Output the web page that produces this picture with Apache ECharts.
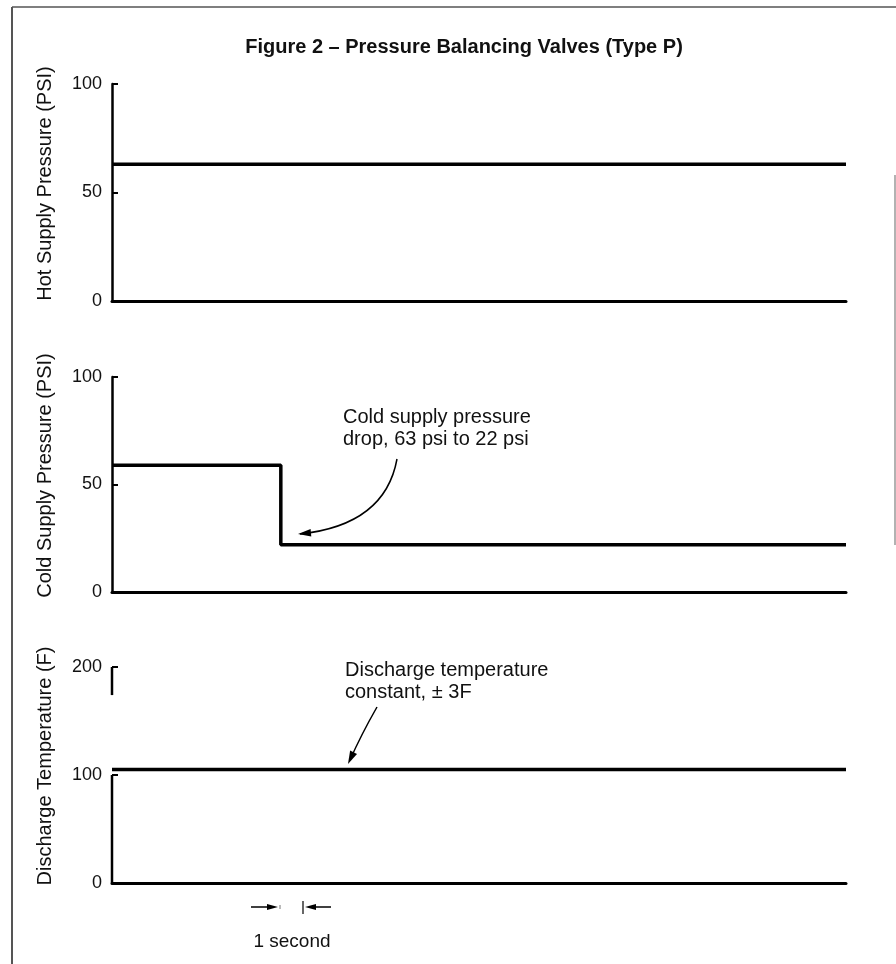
<!DOCTYPE html>
<html><head><meta charset="utf-8">
<script src="https://cdn.jsdelivr.net/npm/echarts@6.0.0/dist/echarts.min.js"></script>
<style>html,body{margin:0;padding:0;background:#fff}#c{width:896px;height:964px}</style>
</head><body><div id="c"></div>
<script>
// ---- data ----
const timeMin = 0, timeMax = 30;            // seconds (1 second ≈ 24 px)
const hotTime = [0, 30];
const hotPsi = [63, 63];
const coldTime = [0, 6.9, 6.9, 30];
const coldPsi = [59, 59, 22, 22];
const dischargeTime = [0, 30];
const dischargeF = [105, 105];
const pressureMax = 100, pressureStep = 50;
const tempMax = 200, tempStep = 100;
const tempAxisSegA = [0, 100];   // visible pieces of the broken temperature axis
const tempAxisSegB = [174, 200];
const names = ['Hot Supply Pressure (PSI)', 'Cold Supply Pressure (PSI)', 'Discharge Temperature (F)'];
const titleText = 'Figure 2 – Pressure Balancing Valves (Type P)';
const note1 = 'Cold supply pressure\ndrop, 63 psi to 22 psi';
const note2 = 'Discharge temperature\nconstant, ± 3F';
const secondLabel = '1 second';

const FONT = 'Liberation Sans, Arial, Helvetica, sans-serif';
const INK = '#111';
const chart = echarts.init(document.getElementById('c'), null, {renderer: 'canvas'});

const grids = [
  {left: 112, right: 50, top: 84, height: 217},
  {left: 112, right: 50, top: 377, height: 215},
  {left: 112, right: 50, top: 667, height: 216}
];
const xAxes = grids.map((g, i) => ({
  type: 'value', gridIndex: i, min: timeMin, max: timeMax,
  axisLine: {show: true, onZero: false, lineStyle: {color: '#000', width: 3}},
  axisTick: {show: false}, axisLabel: {show: false}, splitLine: {show: false}
}));
function yAx(i, max, step, showLine) {
  return {
    type: 'value', gridIndex: i, min: 0, max: max, interval: step,
    name: names[i], nameLocation: 'middle', nameGap: 57, nameRotate: 90,
    nameTextStyle: {fontSize: 20, color: INK, fontFamily: FONT, padding: [0, 0, 0, 18]},
    axisLine: {show: showLine, lineStyle: {color: '#000', width: 2.5}},
    axisTick: {show: true, inside: true, length: 6, lineStyle: {color: '#000', width: 2}},
    axisLabel: {fontSize: 18, color: INK, fontFamily: FONT, margin: 10},
    splitLine: {show: false}
  };
}
const yAxes = [yAx(0, pressureMax, pressureStep, true), yAx(1, pressureMax, pressureStep, true), yAx(2, tempMax, tempStep, false)];

function lineSeries(i, xs, ys, w) {
  return {
    type: 'line', xAxisIndex: i, yAxisIndex: i, data: xs.map((x, k) => [x, ys[k]]),
    symbol: 'none', silent: true, clip: false, animation: false,
    lineStyle: {color: '#000', width: w}
  };
}
const series = [
  lineSeries(0, hotTime, hotPsi, 3.5),
  lineSeries(1, coldTime, coldPsi, 3.5),
  lineSeries(2, dischargeTime, dischargeF, 3.5),
  lineSeries(2, [timeMin, timeMin], tempAxisSegA, 2.5),
  lineSeries(2, [timeMin, timeMin], tempAxisSegB, 2.5)
];

function arrowHead(tipX, tipY, fromX, fromY, len, half) {
  const dx = tipX - fromX, dy = tipY - fromY, L = Math.hypot(dx, dy);
  const ux = dx / L, uy = dy / L, bx = tipX - ux * len, by = tipY - uy * len;
  return {type: 'polygon', silent: true,
    shape: {points: [[tipX, tipY], [bx - uy * half, by + ux * half], [bx + uy * half, by - ux * half]]},
    style: {fill: '#000'}};
}
const graphics = [
  {type: 'line', silent: true, shape: {x1: 12, y1: 7, x2: 12, y2: 964}, style: {stroke: '#555', lineWidth: 2}},
  {type: 'line', silent: true, shape: {x1: 12, y1: 7, x2: 896, y2: 7}, style: {stroke: '#555', lineWidth: 1.5}},
  {type: 'line', silent: true, shape: {x1: 895, y1: 175, x2: 895, y2: 545}, style: {stroke: '#999', lineWidth: 1.5}},
  {type: 'text', silent: true, x: 464, y: 47, style: {text: titleText, font: 'bold 20px ' + FONT, fill: INK, align: 'center', verticalAlign: 'middle'}},
  {type: 'text', silent: true, x: 343, y: 406, style: {text: note1, font: '20px ' + FONT, fill: INK, lineHeight: 22, align: 'left', verticalAlign: 'top'}},
  {type: 'bezierCurve', silent: true, shape: {x1: 397, y1: 459, x2: 300, y2: 534, cpx1: 385, cpy1: 525}, style: {stroke: '#000', lineWidth: 1.5, fill: null}},
  arrowHead(298, 534, 385, 526, 13, 3.8),
  {type: 'text', silent: true, x: 345, y: 659, style: {text: note2, font: '20px ' + FONT, fill: INK, lineHeight: 22, align: 'left', verticalAlign: 'top'}},
  {type: 'bezierCurve', silent: true, shape: {x1: 377, y1: 707, x2: 350, y2: 760, cpx1: 361, cpy1: 735}, style: {stroke: '#000', lineWidth: 1.5, fill: null}},
  arrowHead(348, 764, 357, 745, 13, 3.8),
  // 1 second scale marker
  {type: 'line', silent: true, shape: {x1: 251, y1: 907, x2: 268, y2: 907}, style: {stroke: '#000', lineWidth: 1.5}},
  arrowHead(278, 907, 260, 907, 11, 3),
  {type: 'line', silent: true, shape: {x1: 280, y1: 905, x2: 280, y2: 909}, style: {stroke: '#777', lineWidth: 1}},
  {type: 'line', silent: true, shape: {x1: 303, y1: 901, x2: 303, y2: 914}, style: {stroke: '#000', lineWidth: 1.2}},
  arrowHead(305, 907, 325, 907, 11, 3),
  {type: 'line', silent: true, shape: {x1: 314, y1: 907, x2: 331, y2: 907}, style: {stroke: '#000', lineWidth: 1.5}},
  {type: 'text', silent: true, x: 292, y: 942, style: {text: secondLabel, font: '19px ' + FONT, fill: INK, align: 'center', verticalAlign: 'middle'}}
];

chart.setOption({
  animation: false,
  backgroundColor: '#fff',
  grid: grids, xAxis: xAxes, yAxis: yAxes, series: series, graphic: graphics
});
</script></body></html>
